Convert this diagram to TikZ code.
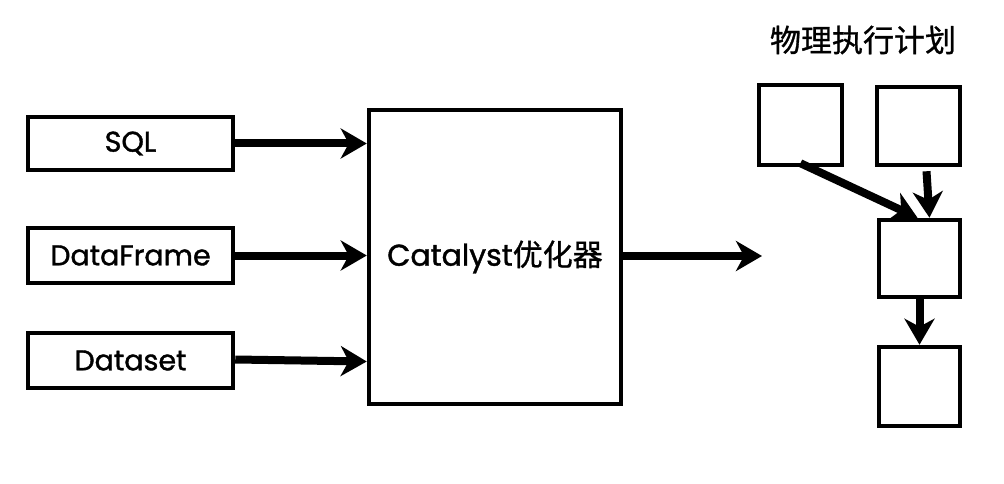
\documentclass[tikz,border=0pt]{standalone}
\usepackage{fontspec}
\setmainfont{Poppins}[FakeBold=1.3]
\newfontfamily\cjk{Noto Sans CJK SC}[FakeBold=1]
\usetikzlibrary{arrows.meta}
\begin{document}
\begin{tikzpicture}[x=1pt,y=-1pt,
  box/.style={draw,line width=4.5pt,fill=white,inner sep=0pt,font=\fontsize{28.5}{32}\selectfont},
  flow/.style={line width=8pt,-{Stealth[length=26pt,width=30pt,inset=8pt]}}]
\useasboundingbox (0,0) rectangle (1004,484);
\node[box,minimum width=205pt,minimum height=53pt] (sql) at (130.5,143.5) {SQL};
\node[box,minimum width=205pt,minimum height=55pt] (df) at (130.5,255.5) {DataFrame};
\node[box,minimum width=205pt,minimum height=55pt] (ds) at (130.5,360.5) {Dataset};
\node[box,minimum width=252pt,minimum height=294pt,font=\fontsize{30}{34}\selectfont] (cat) at (495,257) {Catalyst{\cjk 优化器}};
\node[box,minimum width=83pt,minimum height=80pt] (p1) at (800.5,125) {};
\node[box,minimum width=83pt,minimum height=78pt] (p2) at (918.5,126) {};
\node[box,minimum width=81pt,minimum height=77pt] (p3) at (919.5,258.5) {};
\node[box,minimum width=81pt,minimum height=79pt] (p4) at (919.5,386.5) {};
\node[font=\cjk\fontsize{31}{34}\selectfont] (title) at (863,40) {物理执行计划};
\coordinate (out) at (762,256);
\draw[flow] (sql.east) -- (sql.east -| cat.west);
\draw[flow] (df.east) -- (df.east -| cat.west);
\draw[flow] ([yshift=1pt]ds.east) -- ([yshift=-1pt]ds.east -| cat.west);
\draw[flow] (cat.east |- out) -- (out);
\draw[flow] ([xshift=0pt,yshift=4pt]p1.south) -- ([xshift=-2pt]p3.north);
\draw[flow] ([xshift=8pt,yshift=-4pt]p2.south) -- ([xshift=10pt]p3.north);
\draw[flow] (p3.south) -- (p4.north);
\end{tikzpicture}
\end{document}
